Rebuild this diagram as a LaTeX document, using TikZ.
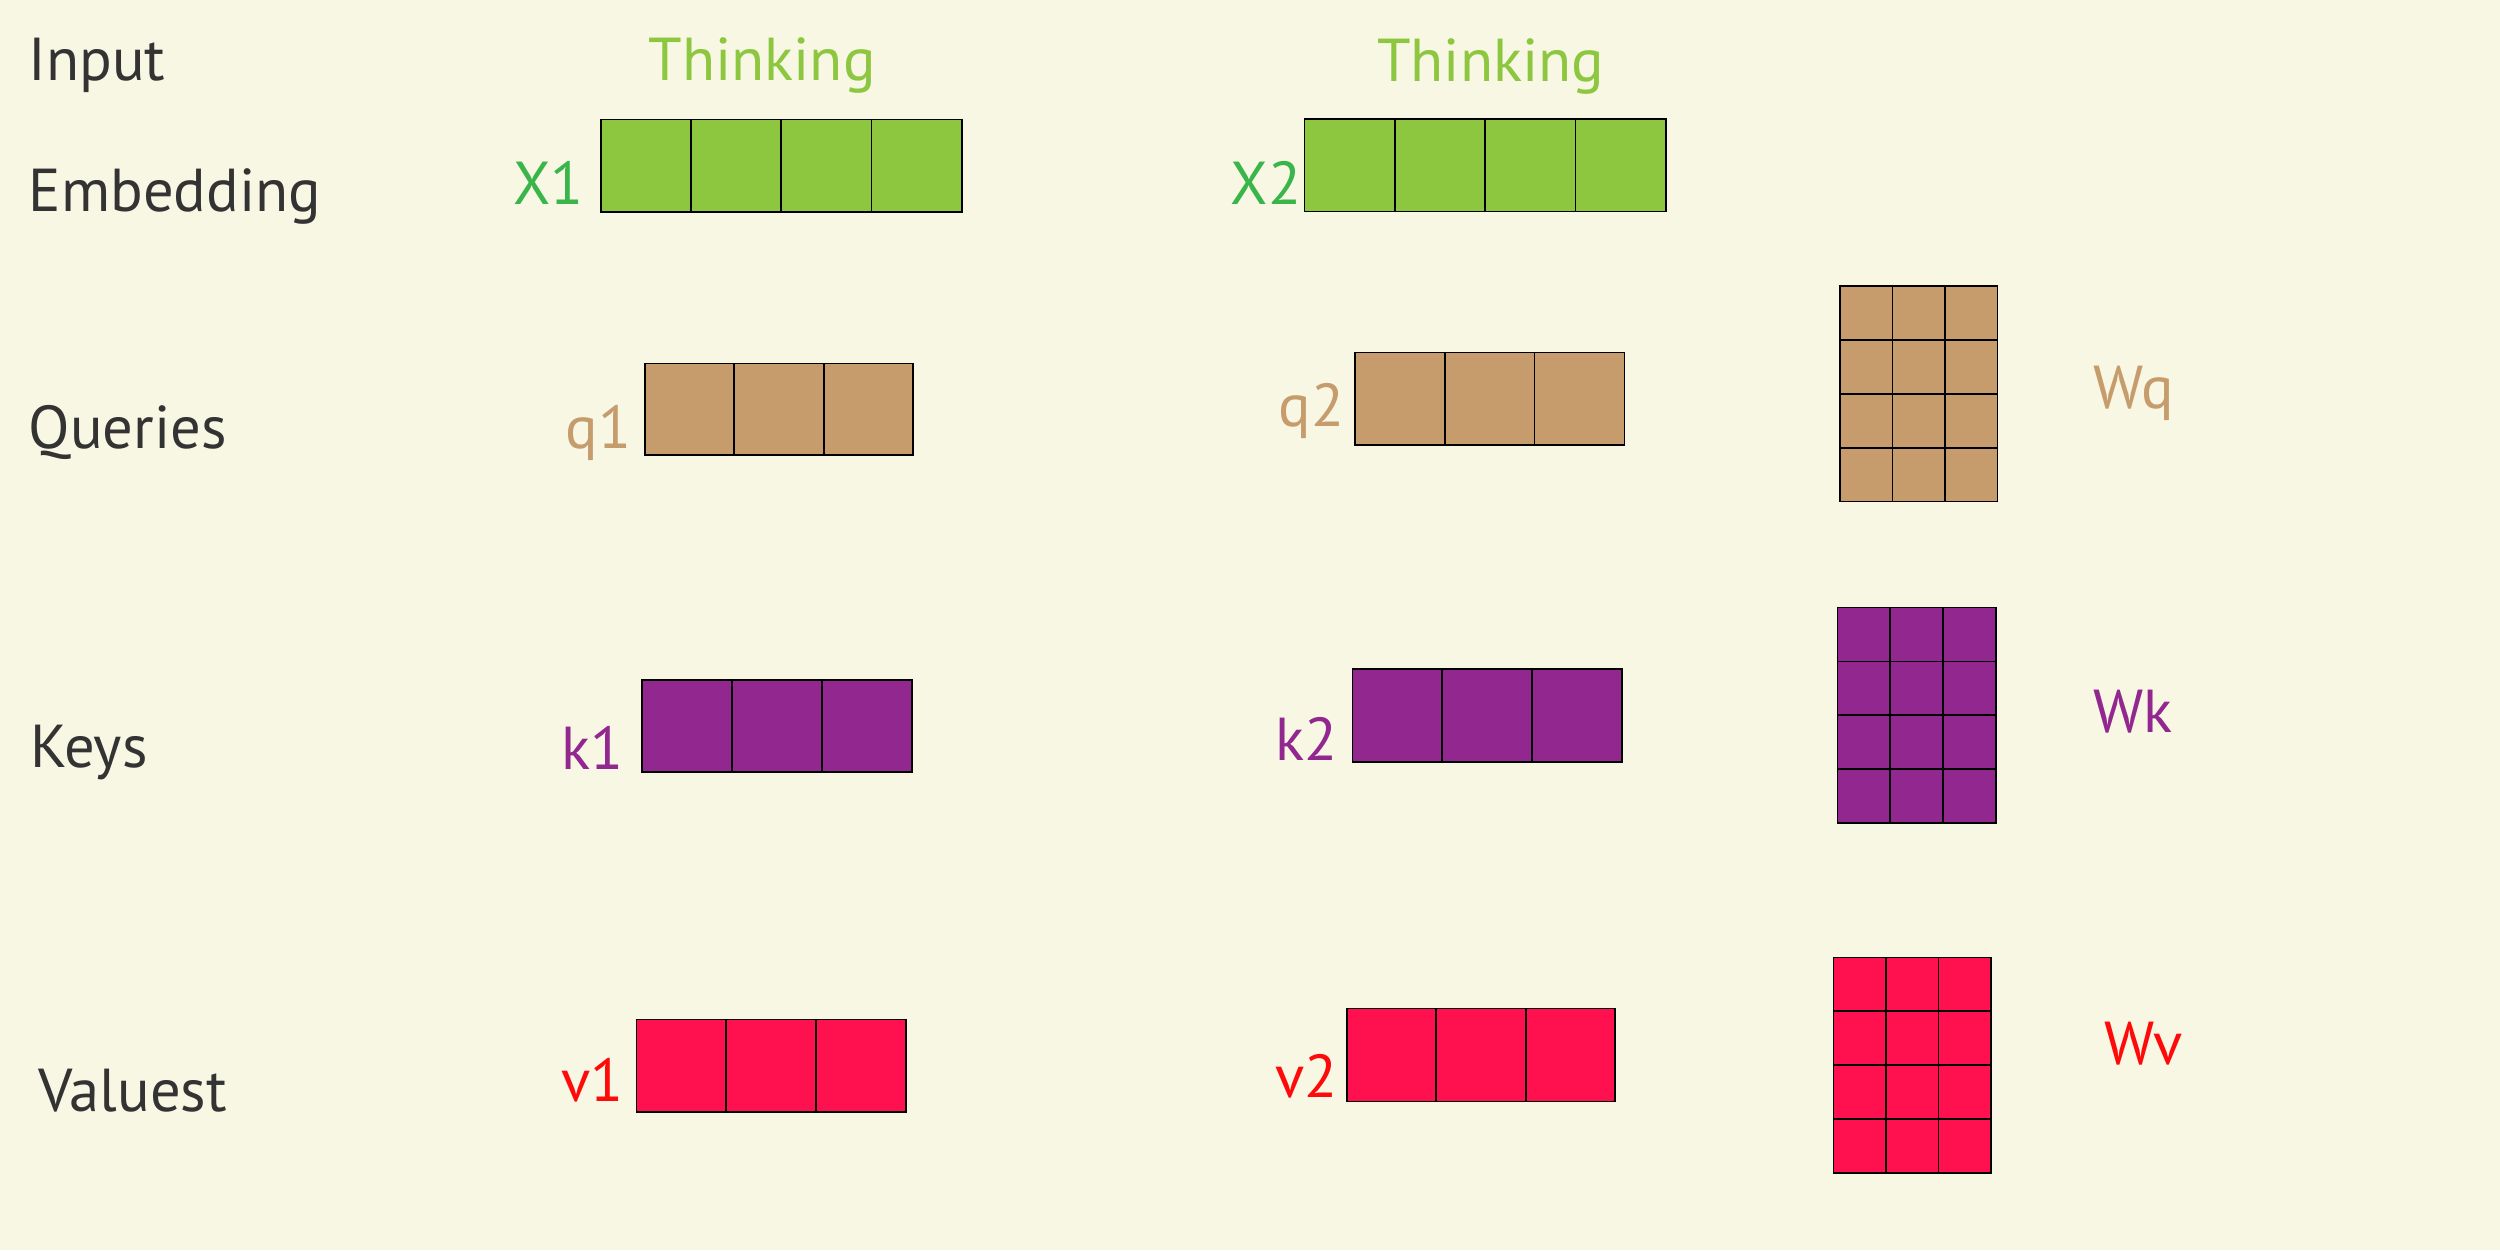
\documentclass[tikz,border=0pt]{standalone}
\usepackage{fontspec}
\setmainfont{PT Sans}
\usetikzlibrary{calc}
\definecolor{bg}{HTML}{F8F7E4}
\definecolor{txt}{HTML}{333333}
\definecolor{thinkgreen}{HTML}{8DC63F}
\definecolor{xgreen}{HTML}{39B54A}
\definecolor{tan}{HTML}{C69C6D}
\definecolor{kpurple}{HTML}{92278F}
\definecolor{vfill}{HTML}{FF1150}
\definecolor{vred}{HTML}{FF0A0A}
\tikzset{
  cellbox/.style={draw=black, line width=1.1pt, inner sep=0pt, outer sep=0pt, anchor=north west},
  divline/.style={draw=black, line width=1.1pt},
  lbl/.style={inner sep=0pt, outer sep=0pt, font=\fontsize{38}{40}\selectfont},
  rowlbl/.style={lbl, text=txt, anchor=base west},
  veclbl/.style={lbl, anchor=base east},
  matlbl/.style={lbl, anchor=base west},
}
\newcommand\mkbox[6]{% name, x, y (top-left), width, height, colour
  \node[cellbox, fill=#6, minimum width=#4pt, minimum height=#5pt] (#1) at (#2,#3) {};}
\newcommand\coldivs[2]{% name, list of fractions
  \foreach \f in {#2}
    \draw[divline] ($(#1.south west)!\f!(#1.south east)$) -- ($(#1.north west)!\f!(#1.north east)$);}
\newcommand\rowdivs[2]{% name, list of fractions
  \foreach \f in {#2}
    \draw[divline] ($(#1.north west)!\f!(#1.south west)$) -- ($(#1.north east)!\f!(#1.south east)$);}
\begin{document}
\begin{tikzpicture}[x=1pt,y=-1pt]
\fill[bg] (0,0) rectangle (1568,784);
\useasboundingbox (0,0) rectangle (1568,784);

% row labels
\node[rowlbl] (input) at (18,50.8) {Input};
\node[rowlbl] (embed) at (18,132.8) {Embedding};
\node[rowlbl] (queries) at (18,281.4) {Queries};
\node[rowlbl] (keys) at (19,481.6) {Keys};
\node[rowlbl] (values) at (24,697.4) {Valuest};

% words
\node[lbl, text=thinkgreen, anchor=base] (w1) at (478,50.8) {Thinking};
\node[lbl, text=thinkgreen, anchor=base] (w2) at (935,51) {Thinking};

% embeddings
\mkbox{X1}{376.8}{74.9}{226.4}{57.9}{thinkgreen}
\coldivs{X1}{0.25,0.5,0.75}
\mkbox{X2}{818.1}{74.8}{226.8}{57.8}{thinkgreen}
\coldivs{X2}{0.25,0.5,0.75}
\node[veclbl, text=xgreen] (lx1) at (366,128) {X1};
\node[veclbl, text=xgreen] (lx2) at (816,128.3) {X2};

% queries
\mkbox{q1}{404.4}{228}{168.4}{57.6}{tan}
\coldivs{q1}{0.3333,0.6667}
\mkbox{q2}{849.8}{221.1}{169}{57.8}{tan}
\coldivs{q2}{0.3333,0.6667}
\node[veclbl, text=tan] (lq1) at (396,281.4) {q1};
\node[veclbl, text=tan] (lq2) at (843,267.4) {q2};

% keys
\mkbox{k1}{402.8}{426.5}{169.2}{57.7}{kpurple}
\coldivs{k1}{0.3333,0.6667}
\mkbox{k2}{848.3}{419.8}{169}{58.2}{kpurple}
\coldivs{k2}{0.3333,0.6667}
\node[veclbl, text=kpurple] (lk1) at (391,482.4) {k1};
\node[veclbl, text=kpurple] (lk2) at (839,477.2) {k2};

% values
\mkbox{v1}{399.2}{639.4}{168.8}{58}{vfill}
\coldivs{v1}{0.3333,0.6667}
\mkbox{v2}{844.6}{632.6}{168.5}{58.2}{vfill}
\coldivs{v2}{0.3333,0.6667}
\node[veclbl, text=vred] (lv1) at (391,690.9) {v1};
\node[veclbl, text=vred] (lv2) at (839,688.1) {v2};

% weight matrices
\mkbox{Wq}{1154}{179.4}{98.8}{135.2}{tan}
\coldivs{Wq}{0.3333,0.6667}
\rowdivs{Wq}{0.25,0.5,0.75}
\mkbox{Wk}{1152.5}{381}{99.3}{135.3}{kpurple}
\coldivs{Wk}{0.3333,0.6667}
\rowdivs{Wk}{0.25,0.5,0.75}
\mkbox{Wv}{1149.9}{600.5}{98.8}{135.3}{vfill}
\coldivs{Wv}{0.3333,0.6667}
\rowdivs{Wv}{0.25,0.5,0.75}
\node[matlbl, text=tan] (lwq) at (1313,256) {Wq};
\node[matlbl, text=kpurple] (lwk) at (1313,459.5) {Wk};
\node[matlbl, text=vred] (lwv) at (1320,667.5) {Wv};
\end{tikzpicture}
\end{document}
